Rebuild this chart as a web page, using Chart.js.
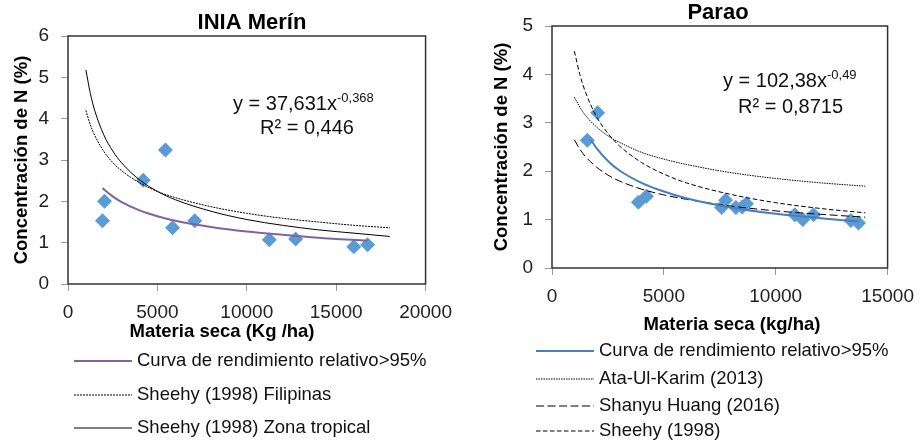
<!DOCTYPE html>
<html>
<head>
<meta charset="utf-8">
<script src="https://cdn.jsdelivr.net/npm/chart.js@4.4.1/dist/chart.umd.min.js"></script>
<style>
  body { margin: 0; background: #fff; }
  .panel { position: absolute; top: 0; width: 462px; height: 443px; }
</style>
</head>
<body>
<div class="panel" style="left:0"><canvas id="merin" width="462" height="443"></canvas></div>
<div class="panel" style="left:462px"><canvas id="parao" width="462" height="443"></canvas></div>
<script>
// ---- INIA Merín ----
const merinX = [1930, 2040, 4210, 5450, 5850, 7090, 11260, 12730, 15990, 16760];
const merinN = [1.53, 2.00, 2.51, 3.24, 1.36, 1.53, 1.07, 1.09, 0.90, 0.95];
const merinCurvaX = [1930, 2500, 3000, 4000, 5000, 6000, 8000, 10000, 12000, 14000, 16760];
const merinCurvaN = [2.32, 2.12, 1.98, 1.78, 1.64, 1.53, 1.38, 1.27, 1.19, 1.12, 1.05];
const sheehyX = [1000, 1250, 1500, 2000, 2500, 3000, 4000, 5000, 6000, 8000, 10000, 12000, 14000, 16000, 18000];
const filipinasN = [4.20, 3.85, 3.59, 3.21, 2.94, 2.74, 2.45, 2.24, 2.09, 1.87, 1.71, 1.59, 1.50, 1.42, 1.36];
const tropicalN = [5.18, 4.61, 4.19, 3.61, 3.22, 2.93, 2.52, 2.24, 2.04, 1.76, 1.56, 1.42, 1.31, 1.23, 1.15];
const merinXTicks = [0, 5000, 10000, 15000, 20000];
const merinYTicks = [0, 1, 2, 3, 4, 5, 6];

// ---- Parao ----
const paraoX = [1580, 2040, 3860, 4220, 7580, 7760, 8220, 8500, 8690, 10850, 11210, 11690, 13360, 13700];
const paraoN = [2.64, 3.21, 1.36, 1.48, 1.25, 1.40, 1.25, 1.26, 1.33, 1.10, 1.00, 1.10, 0.98, 0.93];
const paraoCurvaX = [1750, 2000, 2500, 3000, 4000, 5000, 6000, 8000, 10000, 12000, 13700];
const paraoCurvaN = [2.64, 2.47, 2.21, 2.02, 1.76, 1.58, 1.44, 1.25, 1.12, 1.03, 0.96];
const refX = [1000, 1250, 1500, 2000, 2500, 3000, 4000, 5000, 6000, 8000, 10000, 12000, 14000];
const ataN = [3.53, 3.32, 3.15, 2.91, 2.73, 2.60, 2.39, 2.25, 2.14, 1.97, 1.85, 1.76, 1.69];
const huangN = [2.65, 2.45, 2.30, 2.08, 1.92, 1.80, 1.63, 1.51, 1.42, 1.28, 1.18, 1.11, 1.05];
const sheehyN = [4.48, 3.99, 3.63, 3.12, 2.78, 2.53, 2.18, 1.94, 1.76, 1.52, 1.35, 1.23, 1.14];
const paraoXTicks = [0, 5000, 10000, 15000];
const paraoYTicks = [0, 1, 2, 3, 4, 5];

const FONT = '"Liberation Sans", Arial, sans-serif';
const pares = (xs, ys) => xs.map((x, i) => ({ x: x, y: ys[i] }));

function curva(label, xs, ys, color, width, dash) {
  return {
    label: label,
    data: pares(xs, ys),
    showLine: true,
    borderColor: color,
    borderWidth: width,
    borderDash: dash,
    pointRadius: 0,
    cubicInterpolationMode: 'monotone',
    fill: false
  };
}

function puntos(xs, ys) {
  return {
    label: 'datos',
    data: pares(xs, ys),
    showLine: false,
    pointStyle: 'rectRot',
    pointRadius: 7.5,
    backgroundColor: '#5b9bd5',
    borderWidth: 0
  };
}

// titulo, titulo eje x, ecuación, leyenda y marco
const extras = {
  id: 'extras',
  afterDraw(chart, args, o) {
    const ctx = chart.ctx;
    const a = chart.chartArea;
    ctx.save();
    ctx.strokeStyle = '#333';
    ctx.lineWidth = 1.5;
    ctx.strokeRect(a.left, a.top, a.right - a.left, a.bottom - a.top);

    ctx.fillStyle = '#000';
    ctx.textAlign = 'center';
    ctx.textBaseline = 'middle';
    ctx.font = 'bold 22px ' + FONT;
    ctx.fillText(o.title, o.titlePos[0], o.titlePos[1]);
    ctx.font = 'bold 18.5px ' + FONT;
    ctx.fillText(o.xTitle, o.xTitlePos[0], o.xTitlePos[1]);

    // ecuación de la curva
    ctx.textAlign = 'left';
    ctx.fillStyle = '#111';
    ctx.font = '20px ' + FONT;
    ctx.fillText(o.eq[0], o.eqPos[0], o.eqPos[1]);
    const w = ctx.measureText(o.eq[0]).width;
    ctx.font = '13px ' + FONT;
    ctx.fillText(o.eq[1], o.eqPos[0] + w, o.eqPos[1] - 6);
    ctx.font = '20px ' + FONT;
    ctx.fillText(o.r2, o.r2Pos[0], o.r2Pos[1]);

    // leyenda
    const lineas = chart.data.datasets.filter(d => d.showLine);
    ctx.font = '18.5px ' + FONT;
    lineas.forEach((d, i) => {
      const y = o.legendY[i];
      ctx.beginPath();
      ctx.setLineDash(d.borderDash || []);
      ctx.strokeStyle = d.borderColor;
      ctx.lineWidth = d.borderWidth;
      ctx.moveTo(o.legendX, y);
      ctx.lineTo(o.legendX + 58, y);
      ctx.stroke();
      ctx.setLineDash([]);
      ctx.fillStyle = '#111';
      ctx.fillText(d.label, o.legendX + 63, y);
    });
    ctx.restore();
  }
};

function opciones(xTicks, yTicks, yWidth, padding, extra) {
  return {
    responsive: false,
    animation: false,
    events: [],
    layout: { padding: padding },
    plugins: { legend: { display: false }, tooltip: { enabled: false }, extras: extra },
    scales: {
      x: {
        type: 'linear',
        min: xTicks[0],
        max: xTicks[xTicks.length - 1],
        afterBuildTicks: s => { s.ticks = xTicks.map(v => ({ value: v })); },
        afterFit: s => { s.height = 40; },
        ticks: { autoSkip: false, maxRotation: 0, padding: 10, color: '#222',
                 font: { family: FONT, size: 19 }, callback: v => String(v) },
        grid: { drawOnChartArea: false, tickLength: 7, color: '#999' },
        border: { display: false }
      },
      y: {
        min: yTicks[0],
        max: yTicks[yTicks.length - 1],
        afterBuildTicks: s => { s.ticks = yTicks.map(v => ({ value: v })); },
        afterFit: s => { s.width = yWidth; },
        ticks: { padding: 12, color: '#222', font: { family: FONT, size: 19 }, callback: v => String(v) },
        grid: { drawOnChartArea: false, tickLength: 7, color: '#999' },
        border: { display: false },
        title: { display: true, text: 'Concentración de N (%)', color: '#000', padding: 0,
                 font: { family: FONT, size: 18.5, weight: 'bold' } }
      }
    }
  };
}

new Chart(document.getElementById('merin'), {
  type: 'scatter',
  data: {
    datasets: [
      curva('Curva de rendimiento relativo>95%', merinCurvaX, merinCurvaN, '#8064a2', 2, []),
      curva('Sheehy (1998) Filipinas', sheehyX, filipinasN, '#000', 1, [2, 1]),
      curva('Sheehy (1998) Zona tropical', sheehyX, tropicalN, '#000', 1, []),
      puntos(merinX, merinN)
    ]
  },
  options: opciones(merinXTicks, merinYTicks, 57, { left: 11, top: 36, right: 28, bottom: 119 }, {
    title: 'INIA Merín', titlePos: [252, 23],
    xTitle: 'Materia seca (Kg /ha)', xTitlePos: [222, 332],
    eq: ['y = 37,631x', '-0,368'], eqPos: [233, 104],
    r2: 'R² = 0,446', r2Pos: [260, 128],
    legendX: 74, legendY: [361, 395, 428]
  }),
  plugins: [extras]
});

new Chart(document.getElementById('parao'), {
  type: 'scatter',
  data: {
    datasets: [
      curva('Curva de rendimiento relativo>95%', paraoCurvaX, paraoCurvaN, '#4a7ebb', 2, []),
      curva('Ata-Ul-Karim (2013)', refX, ataN, '#000', 1, [1.5, 1]),
      curva('Shanyu Huang (2016)', refX, huangN, '#000', 1, [8, 3.5]),
      curva('Sheehy (1998)', refX, sheehyN, '#000', 1, [4.5, 2.5]),
      puntos(paraoX, paraoN)
    ]
  },
  options: opciones(paraoXTicks, paraoYTicks, 61, { left: 29, top: 26, right: 31, bottom: 135 }, {
    title: 'Parao', titlePos: [256, 13],
    xTitle: 'Materia seca (kg/ha)', xTitlePos: [270, 325],
    eq: ['y = 102,38x', '-0,49'], eqPos: [261, 81],
    r2: 'R² = 0,8715', r2Pos: [276, 107],
    legendX: 74, legendY: [351, 379, 406, 431]
  }),
  plugins: [extras]
});
</script>
</body>
</html>
